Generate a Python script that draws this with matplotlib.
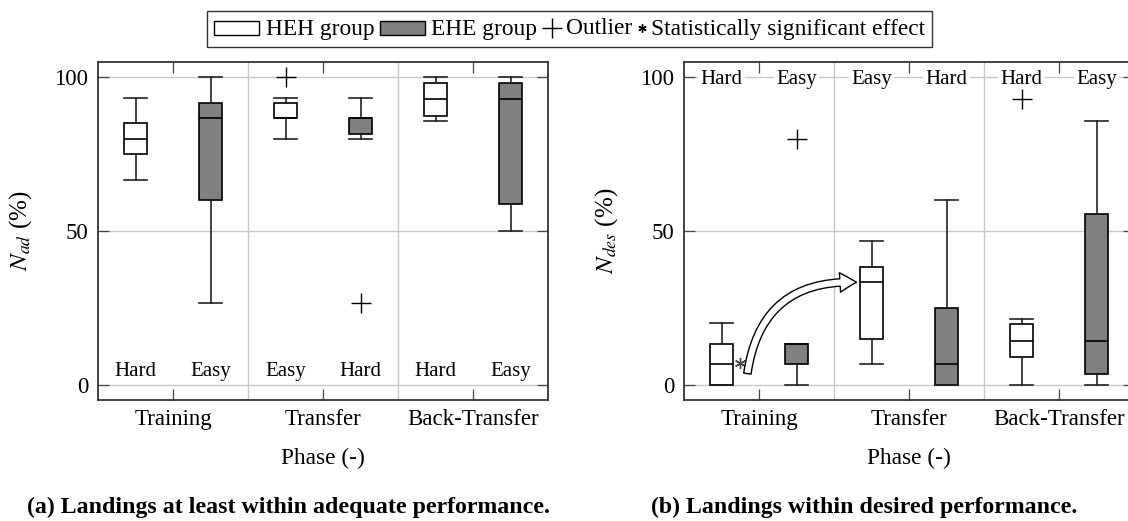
import matplotlib
matplotlib.use("Agg")
import matplotlib.pyplot as plt
from matplotlib.patches import FancyArrowPatch, Rectangle
from matplotlib.lines import Line2D
from matplotlib.offsetbox import AnchoredOffsetbox, HPacker, DrawingArea, TextArea

plt.rcParams['font.family'] = ['Liberation Serif', 'DejaVu Serif']
plt.rcParams['mathtext.fontset'] = 'stix'

# ---------------- data ----------------
positions = [1, 2, 3, 4, 5, 6]
groups = ['HEH', 'EHE', 'HEH', 'EHE', 'HEH', 'EHE']
conditions = ['Hard', 'Easy', 'Easy', 'Hard', 'Hard', 'Easy']
phases = ['Training', 'Transfer', 'Back-Transfer']
phase_pos = [1.5, 3.5, 5.5]
phase_sep = [2.5, 4.5]
yticks = [0, 50, 100]

# (a) landings at least within adequate performance
ad_whislo = [66.7, 26.7, 80.0, 80.0, 85.7, 50.0]
ad_q1 = [75.0, 60.0, 86.7, 81.7, 87.5, 58.8]
ad_med = [80.0, 86.7, 86.7, 86.7, 92.9, 92.9]
ad_q3 = [85.0, 91.7, 91.7, 86.7, 98.1, 98.1]
ad_whishi = [93.3, 100.0, 93.3, 93.3, 100.0, 100.0]
ad_fliers = [[], [], [100.0], [26.7], [], []]

# (b) landings within desired performance
des_whislo = [0.0, 0.0, 6.7, 0.0, 0.0, 0.0]
des_q1 = [0.0, 6.7, 15.0, 0.0, 8.9, 3.6]
des_med = [6.7, 13.3, 33.3, 6.7, 14.3, 14.3]
des_q3 = [13.3, 13.3, 38.3, 25.0, 19.6, 55.4]
des_whishi = [20.0, 13.3, 46.7, 60.0, 21.4, 85.7]
des_fliers = [[], [80.0], [], [], [92.9], []]

# significance marker and arrow (Training HEH -> Transfer HEH)
sig_point = (1.24, 7.0)
arrow_start = (1.345, 3.6)
arrow_end = (2.80, 33.3)

group_colors = {'HEH': 'white', 'EHE': '#808080'}
FS_TICK = 16.5
FS_LAB = 16.8
FS_YLAB = 18
FS_IN = 15
FS_LEG = 16.8

fig = plt.figure(figsize=(11.28, 5.21), dpi=100)
W, H = 1128, 521
axA = fig.add_axes([98 / W, 1 - 400 / H, 450 / W, 338 / H])
axB = fig.add_axes([684 / W, 1 - 400 / H, 450 / W, 338 / H])


def draw(ax, whislo, q1, med, q3, whishi, fliers, ylabel, top_labels):
    stats = []
    for i in range(len(positions)):
        stats.append(dict(whislo=whislo[i], q1=q1[i], med=med[i], q3=q3[i],
                          whishi=whishi[i], fliers=fliers[i]))
    lw = 1.2
    bp = ax.bxp(stats, positions=positions, widths=0.31, capwidths=0.31,
                patch_artist=True, showfliers=True,
                boxprops=dict(edgecolor='black', linewidth=lw),
                medianprops=dict(color='black', linewidth=lw),
                whiskerprops=dict(color='#222222', linewidth=lw),
                capprops=dict(color='#222222', linewidth=lw),
                flierprops=dict(marker='+', markersize=14, markeredgecolor='black',
                                markeredgewidth=1.0, linestyle='none'))
    for patch, g in zip(bp['boxes'], groups):
        patch.set_facecolor(group_colors[g])
    ax.set_xlim(0.5, 6.5)
    ax.set_ylim(-5, 105)
    ax.set_axisbelow(True)
    ax.set_yticks(yticks)
    ax.set_yticklabels([str(t) for t in yticks])
    ax.yaxis.grid(True, color='#c8c8c8', linewidth=1.0)
    ax.set_xticks(phase_sep)
    ax.set_xticklabels([])
    ax.xaxis.grid(True, which='major', color='#c8c8c8', linewidth=1.0)
    ax.tick_params(axis='x', which='major', length=0)
    ax.set_xticks(phase_pos, minor=True)
    ax.set_xticklabels(phases, minor=True)
    ax.tick_params(axis='x', which='minor', direction='in', length=8, width=0.9,
                   top=True, bottom=True, labelsize=FS_TICK, pad=6.5, color='#444444')
    ax.tick_params(axis='y', direction='in', length=8, width=0.9, left=True, right=True,
                   labelsize=FS_TICK, pad=7, color='#444444')
    for s in ax.spines.values():
        s.set_color('#333333')
        s.set_linewidth(1.3)
    ax.set_xlabel('Phase (-)', fontsize=FS_LAB)
    ax.xaxis.set_label_coords(0.5, -0.142)
    ax.set_ylabel(ylabel, fontsize=FS_YLAB)
    ax.yaxis.set_label_coords(-0.142, 0.5)
    for p, c in zip(positions, conditions):
        if top_labels:
            ax.text(p, 98, c, ha='center', va='baseline', fontsize=FS_IN, zorder=1.5,
                    bbox=dict(facecolor='white', edgecolor='none', pad=1.5))
        else:
            ax.text(p, 2.7, c, ha='center', va='baseline', fontsize=FS_IN)


draw(axA, ad_whislo, ad_q1, ad_med, ad_q3, ad_whishi, ad_fliers, r'$N_{ad}$ (%)', False)
draw(axB, des_whislo, des_q1, des_med, des_q3, des_whishi, des_fliers, r'$N_{des}$ (%)', True)

axB.plot([sig_point[0]], [sig_point[1]], linestyle='none', marker=(6, 2, 0),
         markersize=8, markeredgewidth=1.0, color='#444444', zorder=5)
arrow = FancyArrowPatch(arrow_start, arrow_end,
                        arrowstyle='simple,head_length=0.85,head_width=1.0,tail_width=0.38',
                        mutation_scale=14, connectionstyle='arc3,rad=-0.45',
                        facecolor='white', edgecolor='black', linewidth=1.0,
                        shrinkA=0, shrinkB=0, zorder=6)
axB.add_patch(arrow)

# captions
fig.text(288 / W, 1 - 507 / H, '(a) Landings at least within adequate performance.',
         ha='center', va='center', fontsize=17.2, fontweight='bold')
fig.text(864 / W, 1 - 507 / H, '(b) Landings within desired performance.',
         ha='center', va='center', fontsize=17.2, fontweight='bold')

# legend
def patch_handle(fc):
    da = DrawingArea(32.4, 9.4, 0, 0)
    da.add_artist(Rectangle((0, 0), 32.4, 9.4, facecolor=fc, edgecolor='black', linewidth=1.0))
    return da


def marker_handle(marker, ms, w, y):
    da = DrawingArea(w, 9.4, 0, 0)
    da.add_artist(Line2D([w / 2], [y], marker=marker, markersize=ms, color='black',
                         markeredgewidth=1.0, linestyle='none'))
    return da


def txt(s):
    return TextArea(s, textprops=dict(fontsize=FS_LEG, family=['Liberation Serif']))

items = [
    HPacker(children=[patch_handle('white'), txt('HEH group')], sep=4.5, align='baseline'),
    HPacker(children=[patch_handle('#808080'), txt('EHE group')], sep=4.5, align='baseline'),
    HPacker(children=[marker_handle('+', 14, 14, 4.5), txt('Outlier')], sep=3.0, align='baseline'),
    HPacker(children=[marker_handle((6, 2, 0), 6, 6, 4.5), txt('Statistically significant effect')],
            sep=3.0, align='baseline'),
]
pack = HPacker(children=items, sep=4.0, align='baseline')
leg = AnchoredOffsetbox(loc='center', child=pack, pad=0.55, borderpad=0, frameon=True,
                        bbox_to_anchor=(569.5 / W, 1 - 29 / H),
                        bbox_transform=fig.transFigure)
leg.patch.set_boxstyle('square', pad=0)
leg.patch.set_edgecolor('#333333')
leg.patch.set_linewidth(1.0)
fig.add_artist(leg)

fig.savefig('out.png', dpi=100)
